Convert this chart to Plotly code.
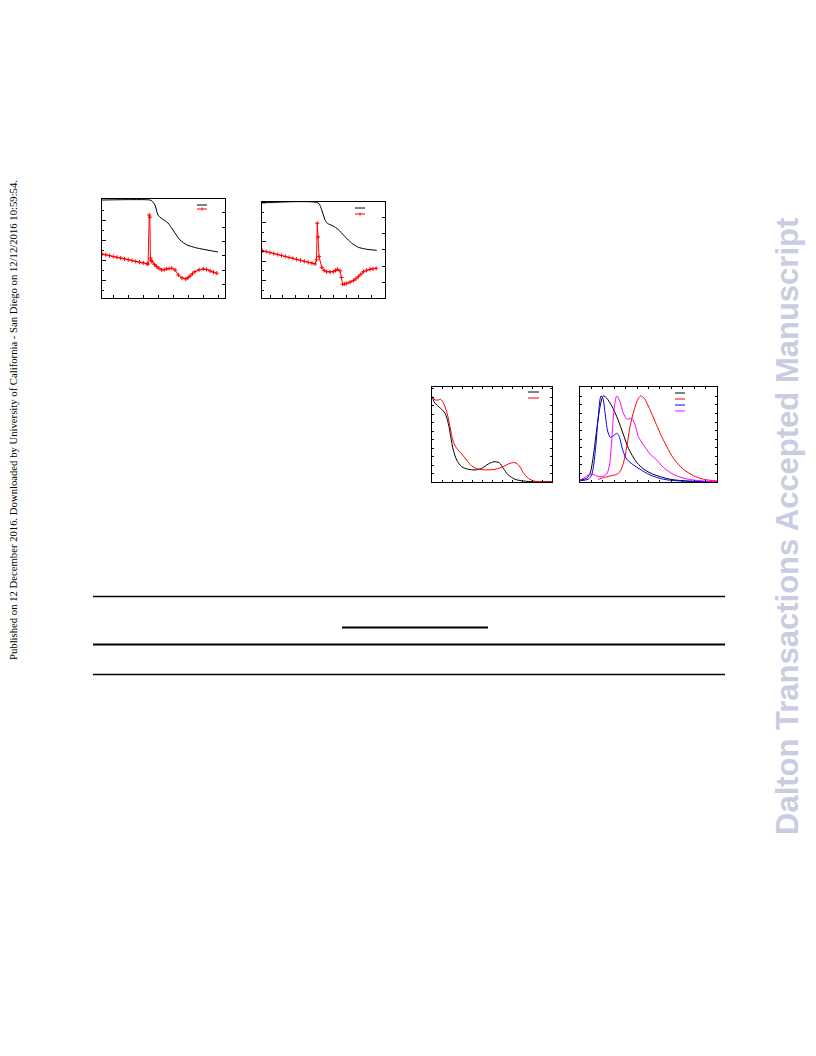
import plotly.graph_objects as go

W, H = 816, 1056
OFF = 8  # default page body margin of the html page

# ---------------- Data ----------------
# Panel 1: TGA (mass %) and DTA (a.u.) vs temperature (deg C)
tga1_T = [25, 345, 358, 378, 398, 418, 465, 498, 545, 592, 658, 798]
tga1_mass = [100, 100, 99, 95, 85, 82, 77, 70, 60, 55, 52, 48]
dta1_T = [25, 50, 75, 100, 125, 150, 175, 200, 225, 250, 275, 300, 325, 332,
          340, 344, 348, 352, 358, 375, 390, 405, 423, 440, 456, 473, 490, 512,
          534, 558, 583, 598, 612, 628, 645, 672, 700, 722, 745, 768, 790]
dta1_v = [1.4, 0.8, 0.2, -0.4, -1.0, -1.5, -2.0, -2.6, -3.2, -3.8, -4.3, -4.8, -5.4, -5.6,
          28.5, 27.0, -1.4, -3.0, -4.0, -6.0, -7.4, -8.6, -9.7, -9.5, -9.0, -8.7, -8.5, -9.7,
          -13.2, -15.2, -16.0, -15.2, -13.9, -12.3, -10.9, -9.6, -9.0, -9.4, -10.4, -11.3, -12.0]

# Panel 2: TGA and DTA
tga2_T = [37, 480, 507, 533, 551, 596, 635, 690, 743, 795, 861, 940]
tga2_mass = [100, 100, 92.8, 82.5, 79.1, 76.3, 72.9, 65.3, 58.5, 54.3, 52.3, 51.2]
dta2_T = [39, 70, 100, 130, 160, 190, 220, 250, 280, 310, 340, 370, 400, 430, 454,
          466, 472, 478, 486, 507, 526, 546, 572, 598, 615, 630, 651, 662, 672, 688,
          704, 730, 756, 775, 795, 815, 835, 860, 887, 910, 935]
dta2_v = [-0.4, -1.0, -1.6, -2.2, -2.8, -3.4, -4.0, -4.6, -5.2, -5.8, -6.4, -7.0, -7.6, -8.1, -8.6,
          -6.0, 16.5, 8.0, -4.1, -10.7, -12.6, -13.4, -13.5, -13.4, -12.6, -11.9, -12.8, -17.0, -21.2, -20.9,
          -20.6, -19.8, -18.9, -17.8, -16.5, -15.0, -13.4, -12.5, -11.9, -11.6, -11.3]

# Panel 3: absorption spectra (nm, normalized absorbance)
abs_nm_black = [251.5, 260, 273.5, 298.5, 315, 331.5, 343.5, 356.5, 373.5, 398.5, 431.5, 465,
                498.5, 531.5, 560, 586.5, 606.5, 631.5, 665, 706.5, 756.5, 848.5]
abs_black = [1.006, 0.947, 0.908, 0.857, 0.810, 0.692, 0.534, 0.377, 0.259, 0.180, 0.150, 0.142,
             0.161, 0.212, 0.239, 0.227, 0.161, 0.083, 0.032, 0.012, 0.004, 0.004]
abs_nm_red = [251.5, 265, 281.5, 293.5, 306.5, 323.5, 340, 356.5, 373.5, 398.5, 423.5, 448.5,
              473.5, 523.5, 565, 598.5, 640, 665, 686.5, 706.5, 731.5, 765, 848.5]
abs_red = [1.006, 0.967, 0.967, 0.975, 0.935, 0.829, 0.652, 0.475, 0.397, 0.330, 0.259, 0.189,
           0.157, 0.142, 0.150, 0.173, 0.220, 0.228, 0.189, 0.110, 0.044, 0.008, 0.004]

# Panel 4: emission spectra (nm, normalized intensity)
em_nm_black = [350, 379, 394, 408, 423, 438, 452, 467, 489, 511, 533, 562, 599, 635, 671, 745, 818, 950]
em_black = [0.023, 0.043, 0.101, 0.296, 0.608, 0.881, 1.006, 0.979, 0.889, 0.764, 0.608, 0.394,
            0.226, 0.140, 0.090, 0.032, 0.012, 0.004]
em_nm_red = [430, 452, 482, 511, 525, 540, 555, 569, 587, 606, 616, 631, 657, 679, 701, 730, 759,
             803, 847, 891, 950]
em_red = [0.032, 0.050, 0.070, 0.090, 0.120, 0.218, 0.413, 0.647, 0.842, 0.979, 1.006, 0.979, 0.842,
          0.705, 0.570, 0.413, 0.277, 0.148, 0.074, 0.032, 0.012]
em_nm_blue = [350, 386, 401, 416, 430, 442, 450, 460, 470, 482, 496, 511, 522, 537, 555, 584, 613,
              657, 715, 789, 950]
em_blue = [0.015, 0.032, 0.082, 0.335, 0.764, 1.006, 0.979, 0.804, 0.608, 0.523, 0.538, 0.569, 0.530,
           0.374, 0.265, 0.199, 0.149, 0.082, 0.032, 0.012, 0.004]
em_nm_mag = [350, 372, 386, 401, 423, 445, 467, 479, 489, 499, 511, 525, 540, 557, 577, 591, 606,
             628, 657, 686, 715, 759, 818, 891, 950]
em_mag = [0.023, 0.055, 0.082, 0.094, 0.070, 0.062, 0.094, 0.199, 0.491, 0.842, 1.006, 0.939, 0.804,
          0.733, 0.745, 0.667, 0.530, 0.433, 0.327, 0.257, 0.171, 0.089, 0.035, 0.012, 0.004]

side_note = ("Published on 12 December 2016. Downloaded by University of California - San Diego "
             "on 12/12/2016 10:59:54.")
watermark = "Dalton Transactions Accepted Manuscript"

# ---------------- Helpers ----------------
FW, FH = W - OFF, H - OFF


def fx(p):
    return (p - OFF) / FW


def fy(p):
    return 1 - (p - OFF) / FH


RED = "#ff0000"
BLUE = "#0000ff"
MAG = "#ff00ff"

fig = go.Figure()

line_k = dict(color="black", width=1, shape="spline", smoothing=0.6)
mk = dict(symbol="cross-thin", size=3, line=dict(color=RED, width=1))
fig.add_trace(go.Scatter(x=tga1_T, y=tga1_mass, xaxis="x", yaxis="y", mode="lines", line=line_k))
fig.add_trace(go.Scatter(x=dta1_T, y=dta1_v, xaxis="x", yaxis="y2", mode="lines+markers",
                         line=dict(color=RED, width=1), marker=mk))
fig.add_trace(go.Scatter(x=tga2_T, y=tga2_mass, xaxis="x2", yaxis="y3", mode="lines", line=line_k))
fig.add_trace(go.Scatter(x=dta2_T, y=dta2_v, xaxis="x2", yaxis="y4", mode="lines+markers",
                         line=dict(color=RED, width=1), marker=mk))

sp = dict(width=1, shape="spline", smoothing=0.8)
fig.add_trace(go.Scatter(x=abs_nm_black, y=abs_black, xaxis="x3", yaxis="y5", mode="lines",
                         line=dict(color="black", **sp)))
fig.add_trace(go.Scatter(x=abs_nm_red, y=abs_red, xaxis="x3", yaxis="y5", mode="lines",
                         line=dict(color=RED, **sp)))
for xs, ys, c in [(em_nm_black, em_black, "black"), (em_nm_red, em_red, RED),
                  (em_nm_blue, em_blue, BLUE), (em_nm_mag, em_mag, MAG)]:
    fig.add_trace(go.Scatter(x=xs, y=ys, xaxis="x4", yaxis="y6", mode="lines",
                             line=dict(color=c, **sp)))


def ax(domain, rng, dtick, tick0, ticklen=3, mirror=True, minor=None, **kw):
    d = dict(domain=domain, range=rng, dtick=dtick, tick0=tick0, ticks="inside", ticklen=ticklen,
             tickwidth=1, tickcolor="black", showline=True, linecolor="black", linewidth=1,
             mirror=mirror, showticklabels=False, showgrid=False, zeroline=False)
    if minor:
        d["minor"] = minor
    d.update(kw)
    return d


layout = dict(
    width=FW, height=FH, margin=dict(l=0, r=0, t=0, b=0), showlegend=False,
    paper_bgcolor="white", plot_bgcolor="white",
    xaxis=ax([fx(102), fx(225)], [25, 845], 100, 0, anchor="y"),
    yaxis=ax([fy(298), fy(199)], [2, 101], 20, 0, ticklen=4, mirror=False, anchor="x",
             minor=dict(dtick=10, ticklen=2, ticks="inside", tickcolor="black")),
    yaxis2=ax([fy(298), fy(199)], [-29.2, 39.6], 10, 0, overlaying="y", side="right", anchor="x",
              mirror=False),
    xaxis2=ax([fx(262), fx(385)], [37, 1005], 100, 0, anchor="y3"),
    yaxis3=ax([fy(298), fy(201.5)], [2.06, 101.5], 20, 0, ticklen=4, mirror=False, anchor="x2",
              minor=dict(dtick=10, ticklen=2, ticks="inside", tickcolor="black")),
    yaxis4=ax([fy(298), fy(201.5)], [-29.6, 29.9], 10, 0, overlaying="y3", side="right", anchor="x2",
              mirror=False),
    xaxis3=ax([fx(432), fx(552)], [250, 850], 50, 0, ticklen=2, mirror="ticks", anchor="y5"),
    yaxis5=ax([fy(482), fy(387)], [0, 1.12], 0.1, 0, ticklen=2, mirror="ticks", anchor="x3"),
    xaxis4=ax([fx(580), fx(717)], [350, 950], 50, 0, ticklen=2, mirror="ticks", anchor="y6"),
    yaxis6=ax([fy(482), fy(387)], [0, 1.11], 0.1, 0, ticklen=2, mirror="ticks", anchor="x4"),
)
fig.update_layout(**layout)

shapes = []


def hline(x0, x1, y, color, width=1):
    shapes.append(dict(type="line", xref="paper", yref="paper", x0=fx(x0), x1=fx(x1),
                       y0=fy(y), y1=fy(y), line=dict(color=color, width=width)))


# legend keys
hline(197, 207, 205, "black")
hline(197, 207, 209, RED)
hline(355, 365, 208, "black")
hline(355, 365, 214, RED)
hline(528, 539, 392, "black")
hline(528, 539, 398, RED)
hline(675, 685, 393, "black")
hline(675, 685, 399, RED)
hline(675, 685, 405, BLUE)
hline(675, 685, 411, MAG)
for cx, cy in [(202, 209), (360, 214)]:
    shapes.append(dict(type="line", xref="paper", yref="paper", x0=fx(cx), x1=fx(cx),
                       y0=fy(cy - 1.5), y1=fy(cy + 1.5), line=dict(color=RED, width=1)))

# table rules
hline(93, 725, 596.5, "black", 1.5)
hline(342, 488, 627.5, "black", 2)
hline(93, 725, 644.5, "black", 2)
hline(93, 725, 674.5, "black", 1.5)

fig.update_layout(shapes=shapes)

fig.add_annotation(text=side_note, x=fx(13), y=fy(420), xref="paper", yref="paper", showarrow=False,
                   xanchor="center", yanchor="middle", textangle=-90,
                   font=dict(family="Liberation Serif", size=10.7, color="black"))
fig.add_annotation(text="<b>" + watermark + "</b>", x=fx(787), y=fy(527), xref="paper", yref="paper",
                   showarrow=False, xanchor="center", yanchor="middle", textangle=-90,
                   font=dict(family="Liberation Sans", size=31, color="#cbcbe2"))

fig.write_html("out.html")
